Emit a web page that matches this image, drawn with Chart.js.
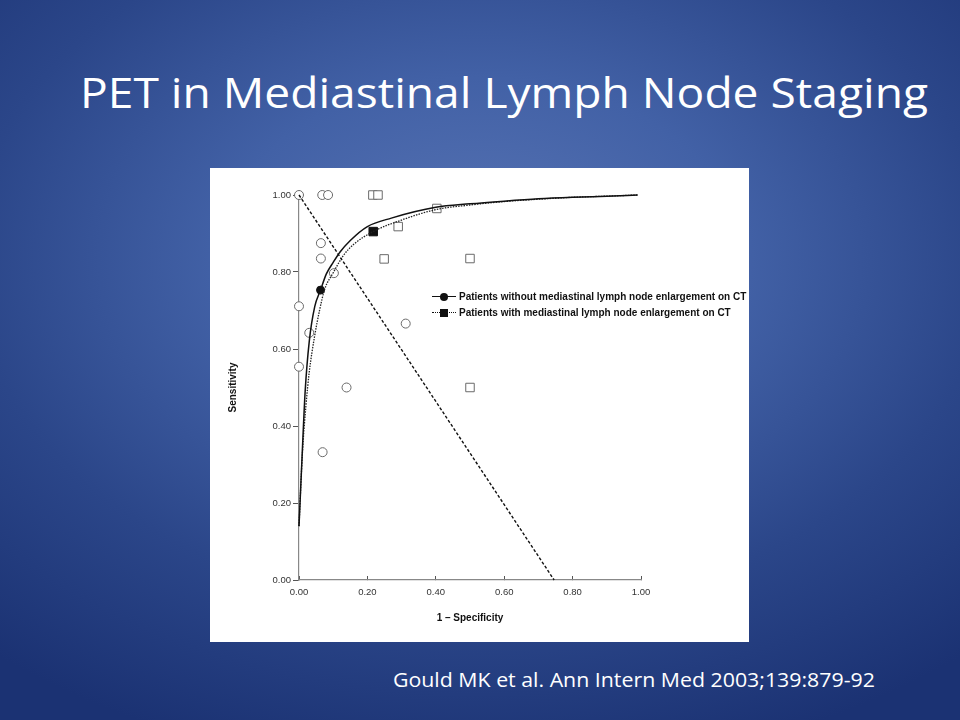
<!DOCTYPE html>
<html>
<head>
<meta charset="utf-8">
<script src="https://cdn.jsdelivr.net/npm/chart.js@4/dist/chart.umd.min.js"></script>
<style>
  html, body { margin: 0; padding: 0; }
  body {
    width: 960px; height: 720px; position: relative; overflow: hidden;
    background: radial-gradient(ellipse 78% 72% at 50% 36%, #5874b4 0%, #4261a6 35%, #2b4689 68%, #1b3273 100%);
    font-family: "Open Sans", sans-serif;
  }
  #title {
    position: absolute; left: 80px; top: 71px; margin: 0;
    color: #fff; font-size: 42px; line-height: 1; font-weight: 400; white-space: nowrap;
    transform-origin: left top;
  }
  #cite {
    position: absolute; right: 85px; top: 670px;
    color: #fff; font-size: 20px; line-height: 1; white-space: nowrap;
    transform-origin: right top;
  }
  #box {
    position: absolute; left: 210px; top: 168px; width: 539px; height: 474px;
    background: #fff;
  }
  #box canvas { position: absolute; left: 0; top: 0; }
  .leg { position: absolute; left: 222px; height: 12px; font: bold 10px "Liberation Sans", Arial, sans-serif; color: #111; white-space: nowrap; }
  .leg .ln { position: absolute; left: 0; top: 5px; width: 24px; border-top: 1.5px solid #111; }
  .leg .ln.dot { border-top: 1.5px dotted #111; }
  .leg .mk { position: absolute; left: 8px; top: 2px; width: 8px; height: 8px; background: #111; }
  .leg .mk.c { border-radius: 50%; }
  .leg .tx { position: absolute; left: 27px; top: 0; line-height: 12px; }
</style>
</head>
<body>
<h1 id="title">PET in Mediastinal Lymph Node Staging</h1>
<div id="box">
  <canvas id="roc" width="539" height="474"></canvas>
  <div class="leg" style="top:123px"><div class="ln"></div><div class="mk c"></div><div class="tx">Patients without mediastinal lymph node enlargement on CT</div></div>
  <div class="leg" style="top:139px"><div class="ln dot"></div><div class="mk"></div><div class="tx">Patients with mediastinal lymph node enlargement on CT</div></div>
</div>
<div id="cite">Gould MK et al. Ann Intern Med 2003;139:879-92</div>

<script>
// individual studies, patients without CT enlargement (open circles)
const withoutStudyX = [0.00, 0.068, 0.085, 0.064, 0.064, 0.102, 0.00, 0.03, 0.312, 0.00, 0.139, 0.069];
const withoutStudyY = [1.00, 1.00, 1.00, 0.875, 0.835, 0.797, 0.711, 0.642, 0.666, 0.554, 0.50, 0.332];
// individual studies, patients with CT enlargement (open squares)
const withStudyX = [0.216, 0.231, 0.29, 0.403, 0.249, 0.50, 0.50];
const withStudyY = [1.00, 1.00, 0.918, 0.965, 0.834, 0.835, 0.50];
// summary points
const withoutSummary = [0.063, 0.753];
const withSummary = [0.217, 0.905];
// SROC curves
const withoutCurveX = [0.0, 0.003, 0.009, 0.018, 0.03, 0.046, 0.063, 0.08, 0.10, 0.12, 0.15, 0.20, 0.27, 0.40, 0.50, 0.60, 0.70, 0.80, 0.90, 0.99];
const withoutCurveY = [0.14, 0.20, 0.32, 0.49, 0.62, 0.71, 0.753, 0.795, 0.825, 0.852, 0.882, 0.918, 0.94, 0.968, 0.977, 0.984, 0.99, 0.994, 0.997, 1.0];
const withCurveX = [0.0, 0.01, 0.02, 0.03, 0.045, 0.06, 0.075, 0.10, 0.13, 0.16, 0.217, 0.30, 0.40, 0.50, 0.60, 0.70, 0.80, 0.90, 0.99];
const withCurveY = [0.14, 0.33, 0.45, 0.54, 0.63, 0.70, 0.755, 0.798, 0.843, 0.872, 0.905, 0.935, 0.962, 0.974, 0.983, 0.989, 0.994, 0.997, 1.0];
// dashed reference line
const refLineX = [0.0, 0.746];
const refLineY = [1.0, 0.0];
const tickValues = [0, 0.2, 0.4, 0.6, 0.8, 1.0];

function pts(xs, ys) {
  return xs.map((x, i) => ({ x: x, y: ys[i] }));
}

const tickFont = { family: "'Liberation Sans', Arial, sans-serif", size: 9.5 };
const titleFont = { family: "'Liberation Sans', Arial, sans-serif", size: 10, weight: "bold" };

new Chart(document.getElementById("roc"), {
  type: "scatter",
  data: {
    datasets: [
      {
        label: "ref",
        data: pts(refLineX, refLineY),
        showLine: true, borderColor: "#111", borderWidth: 1.4, borderDash: [3, 2],
        pointRadius: 0, clip: false,
      },
      {
        label: "without curve",
        data: pts(withoutCurveX, withoutCurveY),
        showLine: true, cubicInterpolationMode: "monotone", borderColor: "#111", borderWidth: 1.5,
        pointRadius: 0, clip: false,
      },
      {
        label: "with curve",
        data: pts(withCurveX, withCurveY),
        showLine: true, cubicInterpolationMode: "monotone", borderColor: "#222", borderWidth: 1.3, borderDash: [1.5, 1.2],
        pointRadius: 0, clip: false,
      },
      {
        label: "without studies",
        data: pts(withoutStudyX, withoutStudyY),
        pointStyle: "circle", pointRadius: 4.5, backgroundColor: "#fff", borderColor: "#6a6a6a", borderWidth: 1,
        clip: false,
      },
      {
        label: "with studies",
        data: pts(withStudyX, withStudyY),
        pointStyle: "rect", pointRadius: 6, backgroundColor: "#fff", borderColor: "#6a6a6a", borderWidth: 1,
        clip: false,
      },
      {
        label: "without summary",
        data: [{ x: withoutSummary[0], y: withoutSummary[1] }],
        pointStyle: "circle", pointRadius: 4, backgroundColor: "#111", borderColor: "#111",
        clip: false,
      },
      {
        label: "with summary",
        data: [{ x: withSummary[0], y: withSummary[1] }],
        pointStyle: "rect", pointRadius: 6, backgroundColor: "#111", borderColor: "#111",
        clip: false,
      },
    ],
  },
  options: {
    responsive: false,
    animation: false,
    events: [],
    layout: { padding: { left: 0, top: 27, right: 108, bottom: 0 } },
    plugins: { legend: { display: false }, tooltip: { enabled: false } },
    scales: {
      x: {
        type: "linear", min: 0, max: 1,
        afterFit: (s) => { s.height = 62; },
        afterBuildTicks: (s) => { s.ticks = tickValues.map((v) => ({ value: v })); },
        grid: { drawOnChartArea: false, tickLength: -4, color: "#555" },
        border: { color: "#888", width: 1.2 },
        ticks: { font: tickFont, color: "#333", padding: 11, maxRotation: 0, callback: (v) => v.toFixed(2) },
        title: { display: true, text: "1 – Specificity", font: titleFont, color: "#111", padding: { bottom: 18 } },
      },
      y: {
        type: "linear", min: 0, max: 1,
        afterFit: (s) => { s.width = 89; },
        afterBuildTicks: (s) => { s.ticks = tickValues.map((v) => ({ value: v })); },
        grid: { drawOnChartArea: false, tickLength: 6, color: "#555" },
        border: { color: "#888", width: 1.2 },
        ticks: { font: tickFont, color: "#333", padding: 2, callback: (v) => v.toFixed(2) },
        title: { display: true, text: "Sensitivity", font: titleFont, color: "#111", padding: { top: 17 } },
      },
    },
  },
});

// fit slide text to the widths measured on the reference
function fitWidth(id, target) {
  const el = document.getElementById(id);
  const w = el.getBoundingClientRect().width;
  el.style.transform = `scaleX(${target / w})`;
}
fitWidth("title", 848);
fitWidth("cite", 482);
</script>
</body>
</html>
